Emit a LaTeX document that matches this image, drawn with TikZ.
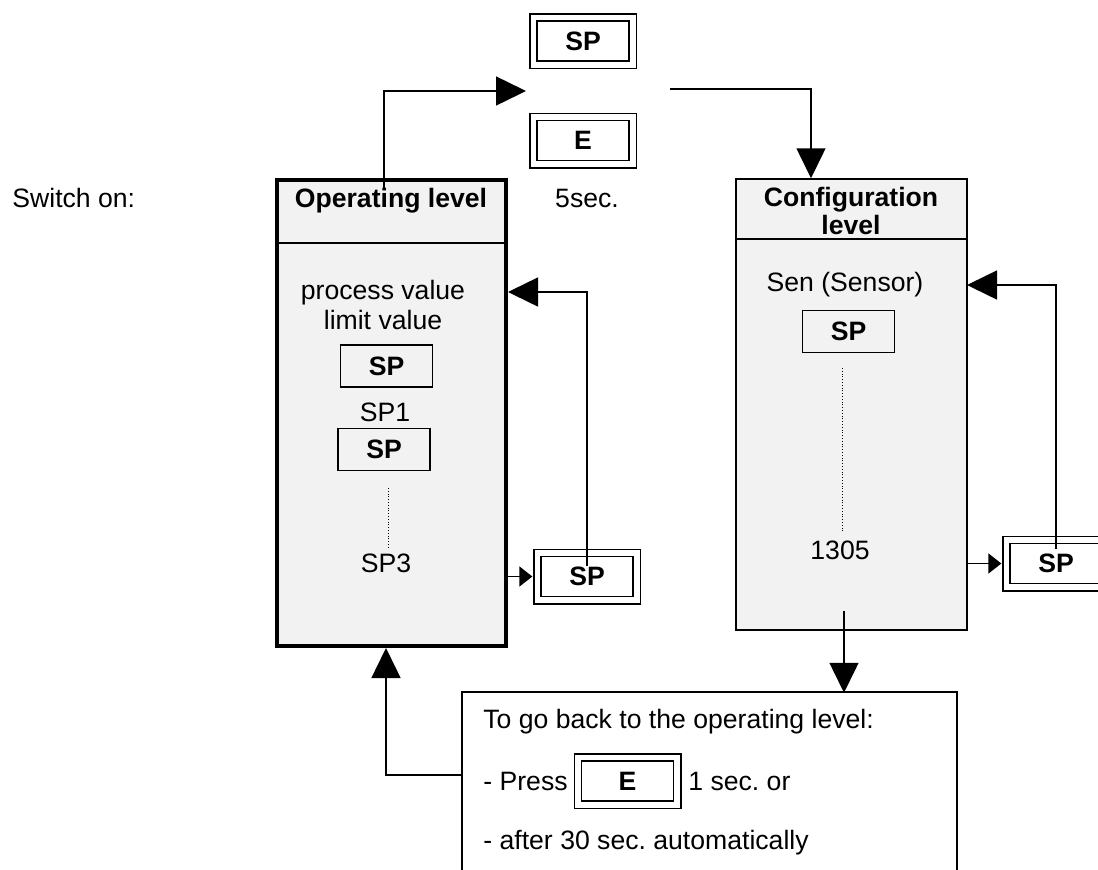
\documentclass[tikz,border=0pt]{standalone}
\usepackage{fontspec}
\setmainfont{Liberation Sans}
\frenchspacing
\usetikzlibrary{arrows.meta,calc}
\definecolor{levelgray}{HTML}{F2F2F2}
\tikzset{
  txt/.style={font=\fontsize{13.3}{15}\selectfont, inner sep=0pt, align=center},
  bold/.style={txt, font=\fontsize{13.3}{14}\selectfont\bfseries},
  key/.style={draw, double, line width=0.75pt, double distance=2.8pt, fill=white, minimum width=49.7pt, minimum height=23.7pt, bold},
  spbox/.style={draw, line width=0.75pt, minimum width=46pt, minimum height=20.8pt, bold},
  level/.style={draw, fill=levelgray, inner sep=0pt},
  flow/.style={-{Triangle[length=15pt,width=14.5pt]}, line width=0.75pt},
  shortflow/.style={-{Triangle[length=6.5pt,width=10pt]}, line width=0.75pt, shorten >=2.1pt}
}
\begin{document}
\begin{tikzpicture}[x=0.5pt, y=-0.5pt]
  \useasboundingbox (0,0) rectangle (1098,869);
  \clip (0,0) rectangle (1098,869);

  % Level boxes with header lines
  \node (op) [level, line width=2pt, minimum width=114.5pt, minimum height=233pt] at (391.5,413) {};
  \node (cf) [level, line width=0.75pt, minimum width=115.5pt, minimum height=225.5pt] at (851.5,404.5) {};
  \draw[line width=0.75pt] (277,243) -- (506,243);
  \draw[line width=0.75pt] (736,239) -- (967,239);
  \node (back) [draw, line width=0.75pt, minimum width=247.5pt, minimum height=98pt] at (709.5,790) {};

  % Titles and labels
  \node (switch) [txt, anchor=west] at (12,198) {Switch on:};
  \node (fivesec) [txt] at (587,198) {5sec.};
  \node (opTitle) [bold] at (391,201) {Operating level};
  \node (cfTitle) [bold] at (851,211) {Configuration\\level};

  % Keys to enter configuration
  \node (keyTop) [key] at (583,41) {SP};
  \node (keyE) [key] at (583,140.5) {E};

  % Operating level contents
  \node (pv) [txt] at (383,305) {process value\\limit value};
  \node (spA) [spbox] at (386.5,366) {SP};
  \node (sp1) [txt] at (385,412) {SP1};
  \node (spB) [spbox] at (384,449.5) {SP};
  \draw[densely dotted, line width=0.4pt] (388,488) -- (388,547);
  \node (sp3) [txt] at (386,563) {SP3};
  \node (keyOp) [key] at (587,576.5) {SP};

  % Configuration level contents
  \node (sen) [txt] at (845,285) {Sen (Sensor)};
  \node (spC) [spbox] at (848.5,331.5) {SP};
  \draw[densely dotted, line width=0.4pt] (842,368) -- (842,533);
  \node (cfEnd) [txt] at (840,550) {1305};
  \node (keyCf) [key] at (1056,563.5) {SP};

  % Way back to the operating level
  \node (backHead) [txt, anchor=west] at (483,722) {To go back to the operating level:};
  \node (press) [txt, anchor=west] at (483,781) {- Press};
  \node (keyBack) [key] at (627.5,781) {E};
  \node (oneSec) [txt, anchor=west] at (688,781) {1 sec. or};
  \node (auto) [txt, anchor=west] at (483,843) {- after 30 sec. automatically};

  % Flow arrows
  \coordinate (gapIn) at (526,91);
  \coordinate (gapOut) at (670,89);
  \coordinate (opLoop) at (508,292);
  \coordinate (cfLoop) at (967,285);
  \draw[flow] ([xshift=-3.75pt,yshift=-5pt]op.north) |- (gapIn);
  \draw[flow] (gapOut) -| ([xshift=-20.25pt]cf.north);
  \draw[shortflow] (op.east |- keyOp.west) -- (keyOp.west);
  \draw[flow] ([yshift=-7pt]keyOp.north) |- (opLoop);
  \draw[shortflow] (cf.east |- keyCf.west) -- (keyCf.west);
  \draw[flow] ([yshift=-5pt]keyCf.north) |- (cfLoop);
  \draw[flow] ([xshift=-3.75pt,yshift=10pt]cf.south) -- ++(0,82);
  \draw[flow] ([yshift=7.5pt]back.west) -| ([xshift=-2.75pt]op.south);
\end{tikzpicture}
\end{document}
